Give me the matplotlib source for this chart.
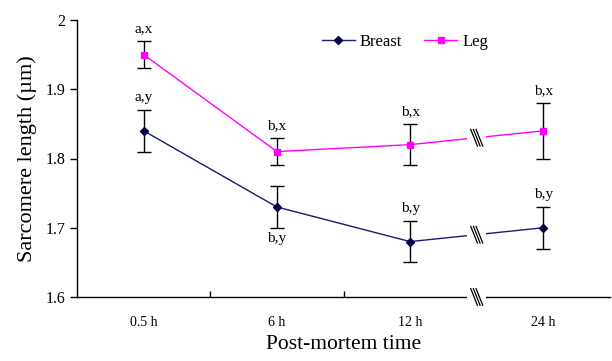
import numpy as np
import matplotlib.pyplot as plt

plt.rcParams['font.family'] = ['Liberation Serif', 'DejaVu Serif']

# data
times = ['0.5 h', '6 h', '12 h', '24 h']
breast = [1.84, 1.73, 1.68, 1.70]
breast_err = [0.03, 0.03, 0.03, 0.03]
leg = [1.95, 1.81, 1.82, 1.84]
leg_err = [0.02, 0.02, 0.03, 0.04]
breast_lab = ['a,y', 'b,y', 'b,y', 'b,y']
leg_lab = ['a,x', 'b,x', 'b,x', 'b,x']

x = np.arange(len(times))

fig = plt.figure(figsize=(6.12, 3.61), dpi=100)
ax = fig.add_axes([77 / 612, 1 - 297 / 361, 533 / 612, 277 / 361])

ax.errorbar(x, breast, yerr=breast_err, fmt='none', ecolor='black', elinewidth=1, capsize=5, capthick=1, zorder=2)
ax.errorbar(x, leg, yerr=leg_err, fmt='none', ecolor='black', elinewidth=1, capsize=5, capthick=1, zorder=2)
ax.plot(x, breast, color='#1a1a6e', lw=1, marker='D', ms=4, mfc='#000044', mec='#000044', label='Breast', zorder=3)
ax.plot(x, leg, color='#ff00ff', lw=1, marker='s', ms=4, label='Leg', zorder=3)

# letters
for i in range(len(x)):
    ax.annotate(leg_lab[i], (x[i], leg[i] + leg_err[i]), xytext=(0, 4), textcoords='offset points',
                ha='center', va='bottom', fontsize=11)
    if i == 1:
        ax.annotate(breast_lab[i], (x[i], breast[i] - breast_err[i]), xytext=(0, -3), textcoords='offset points',
                    ha='center', va='top', fontsize=11)
    else:
        ax.annotate(breast_lab[i], (x[i], breast[i] + breast_err[i]), xytext=(0, 4), textcoords='offset points',
                    ha='center', va='bottom', fontsize=11)

ax.set_xlim(-0.5, 3.5)
ax.set_ylim(1.6, 2.0)
ax.set_yticks([1.6, 1.7, 1.8, 1.9, 2.0])
ax.set_yticklabels(['1.6', '1.7', '1.8', '1.9', '2'])
ax.set_xticks(x)
ax.set_xticklabels(times)
ax.set_xticks([0.5, 1.5], minor=True)
ax.tick_params(axis='x', which='major', length=0, pad=14, labelsize=10)
ax.tick_params(axis='x', which='minor', length=4, direction='in', width=1)
ax.tick_params(axis='y', length=5, direction='out', width=1, labelsize=11.5)
for s in ['top', 'right']:
    ax.spines[s].set_visible(False)
ax.spines['left'].set_linewidth(1)
ax.spines['bottom'].set_linewidth(1)

ax.set_xlabel('Post-mortem time', fontsize=15.5, labelpad=4)
ax.set_ylabel('Sarcomere length (\u00b5m)', fontsize=16, labelpad=6)

# axis breaks between 12 h and 24 h
xb = 2.5
for yb in [1.6, np.mean(breast[2:]), np.mean(leg[2:])]:
    ax.plot([xb - 0.07, xb + 0.07], [yb, yb], color='white', lw=4, zorder=4, clip_on=False, solid_capstyle='butt')
    for dx in [-0.02, 0.0, 0.02]:
        ax.plot([xb + dx - 0.025, xb + dx + 0.025], [yb + 0.012, yb - 0.012], color='black', lw=0.9,
                zorder=5, clip_on=False)

ax.legend(loc='upper center', bbox_to_anchor=(0.615, 1.005), ncol=2, frameon=False, fontsize=12,
          handlelength=2, handletextpad=0.3, columnspacing=1.3)

fig.savefig('out.png', dpi=100)
